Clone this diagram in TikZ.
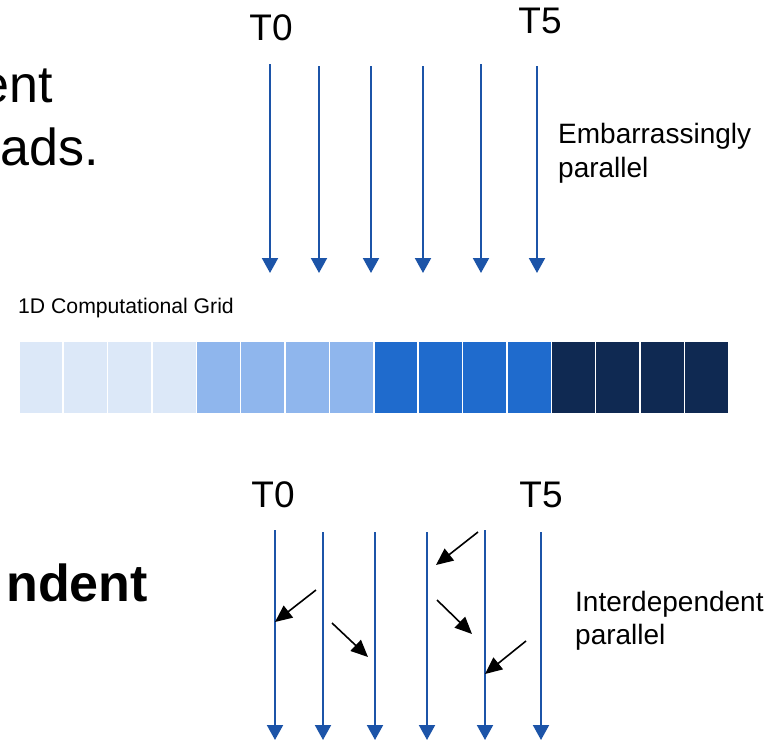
\documentclass[tikz,border=0pt]{standalone}
\usepackage{fontspec}
\setmainfont{Liberation Sans}
\usetikzlibrary{arrows.meta}
\definecolor{tblue}{RGB}{28,84,168}
\definecolor{gA}{RGB}{220,232,248}
\definecolor{gB}{RGB}{143,182,237}
\definecolor{gC}{RGB}{31,107,205}
\definecolor{gD}{RGB}{15,41,82}
\begin{document}
\begin{tikzpicture}[x=1pt,y=-1pt,
  thread/.style={draw=tblue,line width=2pt,-{Triangle[length=15pt,width=16pt]}},
  dep/.style={draw=black,line width=1.6pt,-{Triangle[length=17pt,width=15pt]}},
  lbl/.style={inner sep=0pt,anchor=base west},
  tlbl/.style={inner sep=0pt,anchor=base,font=\fontsize{37}{44}\selectfont},
  side/.style={inner sep=0pt,anchor=base west,font=\fontsize{28}{34}\selectfont},
  cell/.style={draw=white,line width=1.5pt,minimum width=44.375pt,minimum height=73pt,inner sep=0pt,anchor=north west}]
\clip (0,0) rectangle (769,744);
\fill[white] (0,0) rectangle (769,744);

% big clipped text
\node[inner sep=0pt,anchor=base east,font=\fontsize{52}{62}\selectfont] (t1) at (53,102) {ent};
\node[inner sep=0pt,anchor=base east,font=\fontsize{52}{62}\selectfont] (t2) at (99,165) {ads.};
\node[inner sep=0pt,anchor=base east,font=\fontsize{52}{62}\selectfont\bfseries] (t3) at (148,601) {ndent};

% top threads
\node[tlbl] (T0a) at (271,40) {T0};
\node[tlbl] (T5a) at (540,33) {T5};
\foreach \i/\x/\y in {1/270/64,2/319/66,3/371/66,4/423/66,5/481/64,6/537/66}{
  \coordinate (ua\i) at (\x,\y);
  \coordinate (ub\i) at (\x,273);
  \draw[thread] (ua\i) -- (ub\i);
}
\node[side] (emb1) at (558,143) {Embarrassingly};
\node[side] (emb2) at (558,177) {parallel};

% grid
\node[inner sep=0pt,anchor=base west,font=\fontsize{21.2}{25}\selectfont] (gl) at (18,313) {1D Computational Grid};
\foreach \i in {0,...,15}{
  \pgfmathtruncatemacro{\g}{int(\i/4)}
  \ifcase\g \def\cc{gA}\or \def\cc{gB}\or \def\cc{gC}\or \def\cc{gD}\fi
  \node[cell,fill=\cc] (c\i) at ({18+44.375*\i},340) {};
}

% bottom threads
\node[tlbl] (T0b) at (273,507) {T0};
\node[tlbl] (T5b) at (541,507) {T5};
\foreach \i/\x/\y in {1/275/530,2/323/532,3/375/532,4/427/532,5/485/530,6/541/532}{
  \coordinate (la\i) at (\x,\y);
  \coordinate (lb\i) at (\x,740);
  \draw[thread] (la\i) -- (lb\i);
}
\node[side] (int1) at (575,611) {Interdependent};
\node[side] (int2) at (575,644) {parallel};

% dependencies
\coordinate (d1s) at (316,590); \coordinate (d1e) at (275,622);
\coordinate (d2s) at (332,623); \coordinate (d2e) at (368,657);
\coordinate (d3s) at (478,532); \coordinate (d3e) at (436,565);
\coordinate (d4s) at (437,600); \coordinate (d4e) at (472,634);
\coordinate (d5s) at (526,641); \coordinate (d5e) at (485,674);
\foreach \k in {1,...,5}{\draw[dep] (d\k s) -- (d\k e);}
\end{tikzpicture}
\end{document}
